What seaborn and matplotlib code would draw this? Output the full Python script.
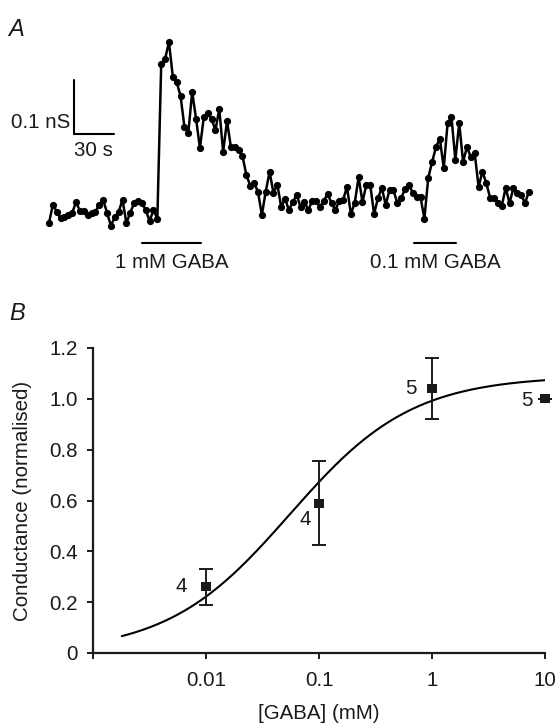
import numpy as np
import matplotlib
matplotlib.use("Agg")
import matplotlib.pyplot as plt
from matplotlib.ticker import NullLocator
import seaborn as sns

# ---- panel A: whole-cell conductance trace (nS), one sample every dt s ----
dt = 2.86
trace_ns = [
    -0.015, 0.019, 0.006, -0.006, -0.004, 0.000, 0.004, 0.024, 0.007, 0.007,
    0.000, 0.004, 0.006, 0.019, 0.028, 0.004, -0.020, -0.004, 0.006, 0.028,
    -0.015, 0.004, 0.022, 0.026, 0.022, 0.009, -0.011, 0.009, -0.007,
    0.280, 0.289, 0.320, 0.256, 0.246, 0.220, 0.163, 0.152, 0.228, 0.178,
    0.124, 0.181, 0.189, 0.178, 0.157, 0.196, 0.117, 0.174, 0.126, 0.126,
    0.120, 0.109, 0.074, 0.054, 0.059, 0.043, 0.000, 0.043, 0.080, 0.041,
    0.056, 0.015, 0.030, 0.009, 0.024, 0.037, 0.015, 0.024, 0.009, 0.026,
    0.026, 0.015, 0.026, 0.039, 0.022, 0.009, 0.026, 0.028, 0.052, 0.002,
    0.022, 0.070, 0.024, 0.056, 0.056, 0.002, 0.031, 0.050, 0.019, 0.046,
    0.046, 0.022, 0.031, 0.048, 0.056, 0.041, 0.033, 0.033, -0.007, 0.069,
    0.098, 0.126, 0.141, 0.087, 0.170, 0.181, 0.102, 0.170, 0.098, 0.126,
    0.107, 0.115, 0.052, 0.080, 0.059, 0.031, 0.031, 0.022, 0.017, 0.050,
    0.022, 0.050, 0.041, 0.037, 0.022, 0.043,
]
stim_labels = ["1 mM GABA", "0.1 mM GABA"]
stim_on = [68.5, 269.8]     # s
stim_off = [112.6, 300.8]   # s

# ---- panel B: concentration-response ----
gaba_mm = [0.01, 0.1, 1, 10]
cond_norm = [0.26, 0.59, 1.04, 1.00]
cond_sem = [0.07, 0.165, 0.12, 0.0]
n_cells = [4, 4, 5, 5]
# Hill fit
fit_ymax, fit_ec50, fit_nh = 1.09, 0.055, 0.8
fit_from, fit_to = 0.0018, 10

INK = "#1a1a1a"
FS = 14.8

sns.set_style("ticks")
plt.rcParams["font.family"] = ["Liberation Sans", "DejaVu Sans"]
plt.rcParams["text.color"] = INK
plt.rcParams["axes.labelcolor"] = INK
plt.rcParams["xtick.color"] = INK
plt.rcParams["ytick.color"] = INK

W, H = 559, 727
fig = plt.figure(figsize=(W / 100, H / 100), dpi=100)

# ================= A =================
axA = fig.add_axes([0, 1 - 290 / H, 1, 290 / H])
t = np.arange(len(trace_ns)) * dt
sns.lineplot(x=t, y=trace_ns, ax=axA, color="black", lw=1.8,
             marker="o", markersize=5.2, markeredgewidth=0, estimator=None)
axA.set_xlim(-36.2, 376.9)
axA.set_ylim(-0.139, 0.398)
axA.set_axis_off()

# scale bar 0.1 nS / 30 s
sb_t, sb_g = 18.3, 0.15
axA.plot([sb_t, sb_t], [sb_g, sb_g + 0.1], color="black", lw=1.5)
axA.plot([sb_t, sb_t + 30], [sb_g, sb_g], color="black", lw=1.5)
axA.text(sb_t - 2.6, sb_g + 0.022, "0.1 nS", ha="right", va="center", fontsize=FS)
axA.text(sb_t + 0.2, sb_g - 0.03, "30 s", ha="left", va="center", fontsize=FS)

# GABA application bars
for lab, on, off in zip(stim_labels, stim_on, stim_off):
    axA.plot([on, off], [-0.052, -0.052], color="black", lw=1.5)
    axA.text((on + off) / 2, -0.089, lab, ha="center", va="center", fontsize=FS)

fig.text(8 / W, 1 - 29 / H, "A", fontsize=17, style="italic", va="center", ha="left")
fig.text(9 / W, 1 - 313 / H, "B", fontsize=17, style="italic", va="center", ha="left")

# ================= B =================
axB = fig.add_axes([93 / W, 1 - 653 / H, 452 / W, 305 / H])
xfit = np.logspace(np.log10(fit_from), np.log10(fit_to), 300)
yfit = fit_ymax * xfit ** fit_nh / (xfit ** fit_nh + fit_ec50 ** fit_nh)
sns.lineplot(x=xfit, y=yfit, ax=axB, color="black", lw=1.5)
axB.errorbar(gaba_mm, cond_norm, yerr=cond_sem, fmt="none", ecolor=INK,
             elinewidth=1.4, capsize=5, capthick=1.4, clip_on=False, zorder=3)
sns.scatterplot(x=gaba_mm, y=cond_norm, ax=axB, marker="s", s=42,
                color=INK, edgecolor="none", zorder=4, clip_on=False)

offsets = [(-18, 0), (-10, -12), (-15, 0), (-13, -1)]
for x, y, n, off in zip(gaba_mm, cond_norm, n_cells, offsets):
    axB.annotate(str(n), (x, y), xytext=off, textcoords="offset points",
                 ha="center", va="center", fontsize=FS)

axB.set_xscale("log")
axB.set_xlim(0.001, 10)
axB.set_ylim(0, 1.2)
axB.set_xticks([0.001, 0.01, 0.1, 1, 10])
axB.set_xticklabels(["", "0.01", "0.1", "1", "10"])
axB.xaxis.set_minor_locator(NullLocator())
yt = [0, 0.2, 0.4, 0.6, 0.8, 1.0, 1.2]
axB.set_yticks(yt)
axB.set_yticklabels(["0"] + [f"{v:.1f}" for v in yt[1:]])
axB.tick_params(axis="both", direction="out", length=4, width=1.4, labelsize=FS)
axB.tick_params(axis="y", pad=7)
axB.tick_params(axis="x", pad=9)
sns.despine(ax=axB)
for sp in ("left", "bottom"):
    axB.spines[sp].set_linewidth(1.6)
    axB.spines[sp].set_color(INK)
axB.set_ylabel("Conductance (normalised)", fontsize=FS)
axB.set_xlabel("[GABA] (mM)", fontsize=FS)
axB.yaxis.set_label_coords(-0.135, 0.5)
axB.xaxis.set_label_coords(0.5, -0.168)

fig.savefig("out.png", dpi=100)
